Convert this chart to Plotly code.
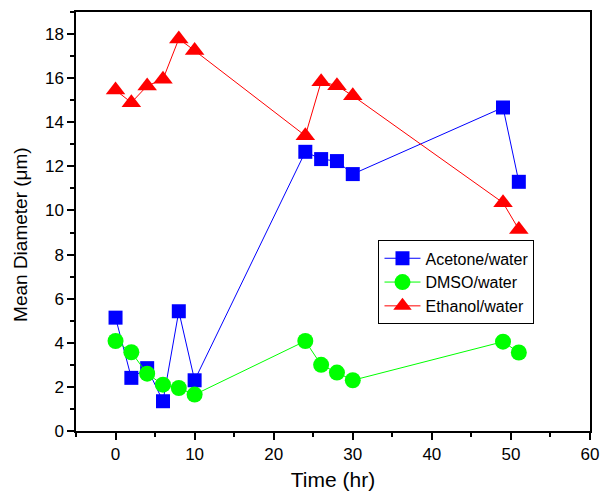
import plotly.graph_objects as go

time_acetone = [0, 2, 4, 6, 8, 10, 24, 26, 28, 30, 49, 51]
acetone = [5.14, 2.41, 2.85, 1.35, 5.43, 2.3, 12.66, 12.33, 12.24, 11.65, 14.67, 11.3]

time_dmso = [0, 2, 4, 6, 8, 10, 24, 26, 28, 30, 49, 51]
dmso = [4.08, 3.57, 2.6, 2.1, 1.95, 1.65, 4.08, 3.0, 2.65, 2.3, 4.05, 3.56]

time_ethanol = [0, 2, 4, 6, 8, 10, 24, 26, 28, 30, 49, 51]
ethanol = [15.46, 14.89, 15.65, 15.95, 17.78, 17.25, 13.39, 15.84, 15.66, 15.2, 10.35, 9.14]

FONT = "Liberation Sans, Arial, sans-serif"

fig = go.Figure()
fig.add_trace(go.Scatter(x=time_acetone, y=acetone, name="Acetone/water",
                         mode="lines+markers",
                         line=dict(color="#0000FF", width=1),
                         marker=dict(symbol="square", size=14, color="#0000FF")))
fig.add_trace(go.Scatter(x=time_dmso, y=dmso, name="DMSO/water",
                         mode="lines+markers",
                         line=dict(color="#00FF00", width=1),
                         marker=dict(symbol="circle", size=16, color="#00FF00")))
fig.add_trace(go.Scatter(x=time_ethanol, y=ethanol, name="Ethanol/water",
                         mode="lines+markers",
                         line=dict(color="#FF0000", width=1),
                         marker=dict(symbol="triangle-up", size=17, color="#FF0000")))

axis_common = dict(showgrid=False, zeroline=False, showline=True, linecolor="black",
                   linewidth=1.5, mirror=True, ticks="outside", ticklen=7, tickwidth=1.5,
                   tickcolor="black", tickfont=dict(family=FONT, size=17, color="black"),
                   automargin=False)

fig.update_xaxes(range=[-5, 60], dtick=10, tick0=0,
                 minor=dict(dtick=5, tick0=0, ticks="outside", ticklen=4, tickcolor="black", tickwidth=1.5),
                 title=dict(text="Time (hr)", font=dict(family=FONT, size=21, color="black"), standoff=9),
                 **axis_common)
fig.update_yaxes(range=[0, 19], dtick=2, tick0=0,
                 minor=dict(dtick=1, tick0=0, ticks="outside", ticklen=4, tickcolor="black", tickwidth=1.5),
                 **axis_common)

fig.add_annotation(text="Mean Diameter (μm)", textangle=-90,
                   xref="paper", yref="paper", x=-0.107, y=0.468,
                   xanchor="center", yanchor="middle", showarrow=False,
                   font=dict(family=FONT, size=19, color="black"))

fig.update_layout(
    width=603, height=495,
    margin=dict(l=76, r=13, t=12, b=64),
    plot_bgcolor="white", paper_bgcolor="white",
    font=dict(family=FONT, color="black"),
    legend=dict(x=0.5885, y=0.455, xanchor="left", yanchor="top",
                bordercolor="black", borderwidth=1, bgcolor="white",
                font=dict(family=FONT, size=16, color="black"),
                tracegroupgap=0, itemwidth=36),
)

fig.write_html("out.html")
